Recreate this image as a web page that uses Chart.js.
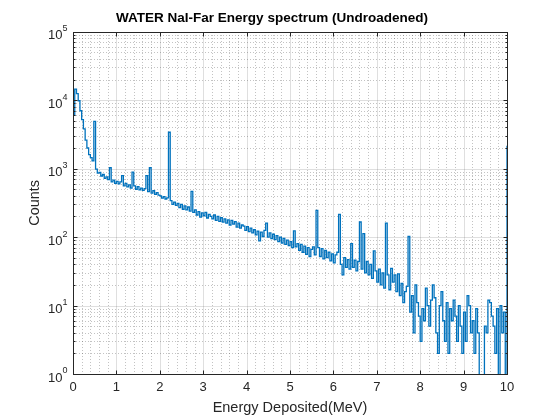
<!DOCTYPE html>
<html>
<head>
<meta charset="utf-8">
<script src="https://cdn.jsdelivr.net/npm/chart.js@4.4.1/dist/chart.umd.min.js"></script>
<style>
  html, body { margin: 0; padding: 0; background: #fff; }
</style>
</head>
<body>
<canvas id="spectrum" width="560" height="420"></canvas>
<script>
// histogram: 0.04 MeV bins from 0 to 10 MeV, last entry is the overflow bin at 10 MeV
const binWidth = 0.04;
const counts = [
    6000, 14500, 12500, 9800, 7000, 5200, 3800, 2600, 2000, 1600,   // 0.00
    1450, 1300, 4900, 980, 860, 880, 780, 820, 720, 760,            // 0.40
    690, 1030, 640, 680, 610, 650, 600, 640, 790, 560,              // 0.80
    610, 540, 580, 520, 890, 560, 500, 545, 490, 520,               // 1.20
    480, 510, 790, 460, 1030, 440, 475, 420, 445, 410,              // 1.60
    400, 370, 390, 360, 375, 3400, 340, 300, 325, 290,              // 2.00
    310, 270, 300, 255, 285, 250, 275, 240, 465, 230,               // 2.40
    250, 210, 235, 195, 225, 205, 230, 190, 215, 200,               // 2.80
    185, 210, 175, 200, 170, 192, 165, 185, 160, 178,               // 3.20
    150, 175, 155, 168, 140, 160, 135, 150, 145, 125,               // 3.60
    142, 120, 135, 115, 128, 108, 122, 88, 118, 102,                // 4.00
    125, 160, 100, 115, 95, 110, 92, 105, 86, 100,                  // 4.40
    82, 96, 78, 90, 75, 86, 70, 123, 72, 80,                        // 4.80
    64, 78, 60, 74, 56, 70, 52, 66, 72, 55,                         // 5.20
    245, 70, 52, 68, 48, 64, 50, 60, 45, 57,                        // 5.60
    42, 55, 60, 215, 40, 28, 50, 36, 47, 34,                        // 6.00
    80, 36, 46, 32, 44, 166, 34, 112, 30, 44,                       // 6.40
    28, 40, 25, 63, 32, 22, 34, 20, 30, 18,                         // 6.80
    160, 28, 17, 35, 22, 28, 16, 29, 14, 21,                        // 7.20
    11, 16, 19, 102, 8, 14, 4, 20, 11, 7,                           // 7.60
    3, 9, 6, 18, 10, 5, 12, 20, 13, 4,                              // 8.00
    2, 10, 16, 6, 3, 11, 2, 9, 6, 12,                               // 8.40
    7, 3, 10, 5, 2, 8, 3, 14, 10, 4,                                // 8.80
    6, 2, 9, 4, 0, 0, 0, 5, 4, 12,                                  // 9.20
    11, 7, 5, 2, 9, 0, 10, 4, 8, 0,                                 // 9.60
    2150                                                            // 10.00
];
const energies = counts.map((c, i) => +(i * binWidth).toFixed(2));

const xTicks = [0, 1, 2, 3, 4, 5, 6, 7, 8, 9, 10];
const yTickExps = [0, 1, 2, 3, 4, 5];

const titleText = 'WATER NaI-Far Energy spectrum (Undroadened)';
const xLabel = 'Energy Deposited(MeV)';
const yLabel = 'Counts';

const FONT = "'Liberation Sans', Arial, Helvetica, sans-serif";
const TEXT = '#262626';

// grid, box, inward ticks and 10^n labels drawn the way MATLAB does it
const matlabFrame = {
    id: 'matlabFrame',
    beforeDatasetsDraw(chart) {
        const { ctx, chartArea: a, scales: { x, y } } = chart;
        const L = Math.round(a.left), R = Math.round(a.right);
        const T = Math.round(a.top), B = Math.round(a.bottom);
        ctx.save();
        ctx.lineWidth = 1;

        // minor grid (dotted)
        ctx.strokeStyle = 'rgba(38,38,38,0.28)';
        ctx.setLineDash([1, 2]);
        ctx.beginPath();
        for (let i = 1; i < 50; i++) {
            if (i % 5 === 0) continue;
            const px = Math.round(x.getPixelForValue(i * 0.2)) + 0.5;
            ctx.moveTo(px, T); ctx.lineTo(px, B);
        }
        for (let k = 0; k < 5; k++) {
            for (let m = 2; m <= 9; m++) {
                const py = Math.round(y.getPixelForValue(m * Math.pow(10, k))) + 0.5;
                ctx.moveTo(L, py); ctx.lineTo(R, py);
            }
        }
        ctx.stroke();

        // major grid
        ctx.setLineDash([]);
        ctx.strokeStyle = 'rgba(38,38,38,0.15)';
        ctx.beginPath();
        xTicks.slice(1, -1).forEach(v => {
            const px = Math.round(x.getPixelForValue(v)) + 0.5;
            ctx.moveTo(px, T); ctx.lineTo(px, B);
        });
        yTickExps.slice(1, -1).forEach(e => {
            const py = Math.round(y.getPixelForValue(Math.pow(10, e))) + 0.5;
            ctx.moveTo(L, py); ctx.lineTo(R, py);
        });
        ctx.stroke();
        ctx.restore();
    },
    afterDraw(chart) {
        const { ctx, chartArea: a, scales: { x, y } } = chart;
        const L = Math.round(a.left) + 0.5, R = Math.round(a.right) + 0.5;
        const T = Math.round(a.top) + 0.5, B = Math.round(a.bottom) + 0.5;
        ctx.save();
        ctx.strokeStyle = TEXT;
        ctx.lineWidth = 1;
        ctx.strokeRect(L, T, R - L, B - T);

        ctx.beginPath();
        xTicks.forEach(v => {
            const px = Math.round(x.getPixelForValue(v)) + 0.5;
            ctx.moveTo(px, B); ctx.lineTo(px, B - 4);
            ctx.moveTo(px, T); ctx.lineTo(px, T + 4);
        });
        yTickExps.forEach(e => {
            const py = Math.round(y.getPixelForValue(Math.pow(10, e))) + 0.5;
            ctx.moveTo(L, py); ctx.lineTo(L + 4, py);
            ctx.moveTo(R, py); ctx.lineTo(R - 4, py);
        });
        for (let k = 0; k < 5; k++) {
            for (let m = 2; m <= 9; m++) {
                const py = Math.round(y.getPixelForValue(m * Math.pow(10, k))) + 0.5;
                ctx.moveTo(L, py); ctx.lineTo(L + 2, py);
                ctx.moveTo(R, py); ctx.lineTo(R - 2, py);
            }
        }
        ctx.stroke();

        // y tick labels: 10 with a raised exponent
        ctx.fillStyle = TEXT;
        ctx.textBaseline = 'middle';
        yTickExps.forEach(e => {
            const py = y.getPixelForValue(Math.pow(10, e));
            ctx.font = '13px ' + FONT;
            ctx.textAlign = 'right';
            ctx.fillText('10', L - 11, py + 4);
            ctx.font = '9px ' + FONT;
            ctx.textAlign = 'left';
            ctx.fillText(String(e), L - 11, py - 3);
        });
        ctx.restore();
    }
};

const ctx = document.getElementById('spectrum').getContext('2d');

const spectrumChart = new Chart(ctx, {
    type: 'line',
    data: {
        datasets: [{
            label: 'WATER NaI-Far',
            // empty bins go below the log axis floor, like log(0) in MATLAB
            data: energies.map((e, i) => ({ x: e, y: counts[i] > 0 ? counts[i] : 0.1 })),
            borderColor: '#0072BD',
            borderWidth: 1.3,
            pointRadius: 0,
            stepped: true,
            fill: false
        }]
    },
    options: {
        responsive: false,
        animation: false,
        events: [],
        layout: { padding: { left: 0, right: 16, top: 0, bottom: 0 } },
        plugins: {
            legend: { display: false },
            tooltip: { enabled: false },
            title: {
                display: true,
                text: titleText,
                color: '#000',
                font: { family: FONT, size: 13.5, weight: 'bold' },
                padding: { top: 10, bottom: 5.5 }
            }
        },
        scales: {
            x: {
                type: 'linear',
                min: 0,
                max: 10,
                afterBuildTicks: s => { s.ticks = xTicks.map(v => ({ value: v })); },
                ticks: { color: TEXT, font: { family: FONT, size: 13 }, padding: 6, maxRotation: 0 },
                grid: { display: false, drawTicks: false },
                border: { display: false },
                title: { display: true, text: xLabel, color: TEXT, font: { family: FONT, size: 14.5 }, padding: { top: 0, bottom: 3 } },
                afterFit: s => { s.height = 46; }
            },
            y: {
                type: 'logarithmic',
                min: 1,
                max: 100000,
                ticks: { display: false },
                grid: { display: false, drawTicks: false },
                border: { display: false },
                title: { display: true, text: yLabel, color: TEXT, font: { family: FONT, size: 14.5 }, padding: { top: 26, bottom: 0 } },
                afterFit: s => { s.width = 73; }
            },
            y2: {
                type: 'linear',
                position: 'right',
                ticks: { display: false },
                grid: { display: false, drawTicks: false },
                border: { display: false },
                afterFit: s => { s.width = 37; }
            }
        }
    },
    plugins: [matlabFrame]
});
</script>
</body>
</html>
